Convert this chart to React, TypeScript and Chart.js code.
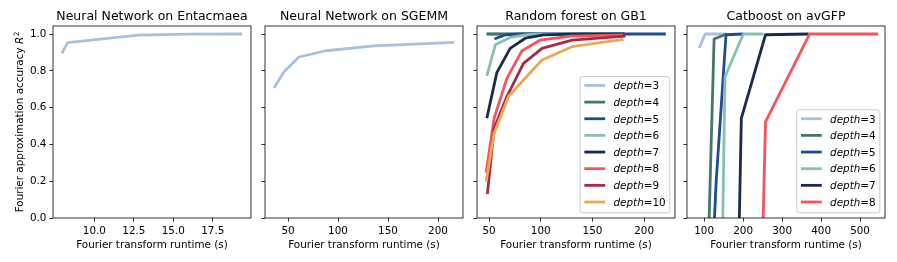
import React, { useEffect, useRef } from 'react';
import { Chart, registerables } from 'chart.js';

Chart.register(...registerables);

const FAMILY = "'DejaVu Sans', sans-serif";
const W = 897;
const H = 262;

// ---------- text ----------
const panelTitles = [
  'Neural Network on Entacmaea',
  'Neural Network on SGEMM',
  'Random forest on GB1',
  'Catboost on avGFP',
];
const xAxisLabel = 'Fourier transform runtime (s)';
const yAxisLabel = 'Fourier approximation accuracy ';

// ---------- ticks ----------
const yTicks = [0, 0.2, 0.4, 0.6, 0.8, 1.0];
const entTicks = [10, 12.5, 15, 17.5];
const sgemmTicks = [50, 100, 150, 200];
const gb1Ticks = [50, 100, 150, 200];
const gfpTicks = [100, 200, 300, 400, 500];

// ---------- Neural network on Entacmaea ----------
const entRuntime = [7.95, 8.3, 12.8, 16.1, 19.35];
const entAccuracy = [0.895, 0.953, 0.994, 0.999, 1.0];

// ---------- Neural network on SGEMM ----------
const sgemmRuntime = [36, 46, 61, 88, 136, 216];
const sgemmAccuracy = [0.707, 0.795, 0.875, 0.909, 0.935, 0.955];

// ---------- Random forest on GB1 ----------
const gb1Depths = ['3', '4', '5', '6', '7', '8', '9', '10'];
const gb1D3Runtime = [48, 55, 68, 83, 101, 130, 181];
const gb1D3Accuracy = [1.0, 1.0, 1.0, 1.0, 1.0, 1.0, 1.0];
const gb1D4Runtime = [47.4, 55, 68, 83, 101, 130, 181];
const gb1D4Accuracy = [1.0, 1.0, 1.0, 1.0, 1.0, 1.0, 1.0];
const gb1D5Runtime = [55.2, 65.9, 83, 101, 130, 181, 221];
const gb1D5Accuracy = [0.973, 0.996, 1.0, 1.0, 1.0, 1.0, 1.0];
const gb1D6Runtime = [47.8, 56.1, 70.7, 87, 101, 130, 181];
const gb1D6Accuracy = [0.772, 0.942, 0.982, 0.997, 1.0, 1.0, 1.0];
const gb1D7Runtime = [47.8, 57.5, 70.4, 85, 102.8, 130, 181];
const gb1D7Accuracy = [0.542, 0.79, 0.922, 0.977, 0.995, 0.999, 1.0];
const gb1D8Runtime = [47.1, 54.9, 67.2, 81.7, 99.5, 128.6, 180];
const gb1D8Accuracy = [0.246, 0.542, 0.759, 0.908, 0.967, 0.989, 0.995];
const gb1D9Runtime = [48.3, 54.9, 67.2, 83.3, 101.2, 130.3, 182];
const gb1D9Accuracy = [0.13, 0.487, 0.66, 0.84, 0.922, 0.967, 0.989];
const gb1D10Runtime = [47.1, 54.9, 68.7, 83.3, 101.2, 130.3, 180];
const gb1D10Accuracy = [0.197, 0.46, 0.66, 0.75, 0.859, 0.931, 0.971];

// ---------- Catboost on avGFP ----------
const gfpDepths = ['3', '4', '5', '6', '7', '8'];
const gfpD3Runtime = [87.2, 102.6, 155.4];
const gfpD3Accuracy = [0.924, 1.0, 1.0];
const gfpD4Runtime = [112.8, 125.5, 157.9];
const gfpD4Accuracy = [0.0, 0.973, 1.0];
const gfpD5Runtime = [126.5, 130.6, 156.1, 200.5];
const gfpD5Accuracy = [0.0, 0.19, 0.996, 1.0];
const gfpD6Runtime = [147.7, 153.6, 200.5, 252];
const gfpD6Accuracy = [0.0, 0.768, 1.0, 1.0];
const gfpD7Runtime = [190.3, 195.4, 257.4, 367.9];
const gfpD7Accuracy = [0.0, 0.542, 0.996, 1.0];
const gfpD8Runtime = [251.5, 257.4, 370.4, 546.4];
const gfpD8Accuracy = [0.0, 0.523, 1.0, 1.0];

// ---------- colours ----------
const depthColors = ['#a9c0da', '#45766b', '#1f4b94', '#88c1b3', '#1d2a50', '#f4545c', '#a32c46', '#e8a855'];

type Series = { label: string; x: number[]; y: number[]; color: string };
type Panel = {
  title: string;
  box: { left: number; right: number; top: number; bottom: number };
  xMin: number;
  xMax: number;
  xTicks: number[];
  xDecimals: number;
  showYLabels: boolean;
  legend: boolean;
  series: Series[];
};

const BOX_TOP = 26;
const BOX_BOTTOM = 218;
const LINE_W = 2.8;

const panels: Panel[] = [
  {
    title: panelTitles[0],
    box: { left: 53, right: 251, top: BOX_TOP, bottom: BOX_BOTTOM },
    xMin: 7.38,
    xMax: 19.92,
    xTicks: entTicks,
    xDecimals: 1,
    showYLabels: true,
    legend: false,
    series: [{ label: 'nn', x: entRuntime, y: entAccuracy, color: depthColors[0] }],
  },
  {
    title: panelTitles[1],
    box: { left: 265, right: 463, top: BOX_TOP, bottom: BOX_BOTTOM },
    xMin: 27,
    xMax: 225,
    xTicks: sgemmTicks,
    xDecimals: 0,
    showYLabels: false,
    legend: false,
    series: [{ label: 'nn', x: sgemmRuntime, y: sgemmAccuracy, color: depthColors[0] }],
  },
  {
    title: panelTitles[2],
    box: { left: 477, right: 675, top: BOX_TOP, bottom: BOX_BOTTOM },
    xMin: 38.3,
    xMax: 229.9,
    xTicks: gb1Ticks,
    xDecimals: 0,
    showYLabels: false,
    legend: true,
    series: [
      [gb1D3Runtime, gb1D3Accuracy],
      [gb1D4Runtime, gb1D4Accuracy],
      [gb1D5Runtime, gb1D5Accuracy],
      [gb1D6Runtime, gb1D6Accuracy],
      [gb1D7Runtime, gb1D7Accuracy],
      [gb1D8Runtime, gb1D8Accuracy],
      [gb1D9Runtime, gb1D9Accuracy],
      [gb1D10Runtime, gb1D10Accuracy],
    ].map((s, i) => ({ label: gb1Depths[i], x: s[0], y: s[1], color: depthColors[i] })),
  },
  {
    title: panelTitles[3],
    box: { left: 687, right: 885, top: BOX_TOP, bottom: BOX_BOTTOM },
    xMin: 56,
    xMax: 564,
    xTicks: gfpTicks,
    xDecimals: 0,
    showYLabels: false,
    legend: true,
    series: [
      [gfpD3Runtime, gfpD3Accuracy],
      [gfpD4Runtime, gfpD4Accuracy],
      [gfpD5Runtime, gfpD5Accuracy],
      [gfpD6Runtime, gfpD6Accuracy],
      [gfpD7Runtime, gfpD7Accuracy],
      [gfpD8Runtime, gfpD8Accuracy],
    ].map((s, i) => ({ label: gfpDepths[i], x: s[0], y: s[1], color: depthColors[i] })),
  },
];

const Y_MIN = 0;
const Y_MAX = 1.0435;
const TICK_FS = 10.4;
const TITLE_FS = 12.5;
const AXIS_W = 40;
const AXIS_H = 40;

function drawLegend(ctx: CanvasRenderingContext2D, area: any, series: Series[]) {
  const fs = TICK_FS;
  const pad = 0.4 * fs;
  const handle = 2 * fs;
  const textPad = 0.8 * fs;
  const rowH = 11.45;
  const spacing = 0.5 * fs;
  const n = series.length;
  const italic = `italic ${fs}px ${FAMILY}`;
  const regular = `${fs}px ${FAMILY}`;
  let maxW = 0;
  const widths = series.map((s) => {
    ctx.font = italic;
    const a = ctx.measureText('depth').width;
    ctx.font = regular;
    const b = ctx.measureText('=' + s.label).width;
    maxW = Math.max(maxW, a + b);
    return a;
  });
  const w = pad * 2 + handle + textPad + maxW;
  const h = pad * 2 + n * rowH + (n - 1) * spacing;
  const right = area.right - 0.5 * fs;
  const bottom = area.bottom - 0.5 * fs;
  const left = right - w;
  const top = bottom - h;
  ctx.save();
  ctx.beginPath();
  if ((ctx as any).roundRect) (ctx as any).roundRect(left, top, w, h, 2.5);
  else ctx.rect(left, top, w, h);
  ctx.fillStyle = 'rgba(255,255,255,0.8)';
  ctx.fill();
  ctx.lineWidth = 1;
  ctx.strokeStyle = '#cccccc';
  ctx.stroke();
  series.forEach((s, i) => {
    const cy = top + pad + i * (rowH + spacing) + rowH * 0.42;
    ctx.beginPath();
    ctx.moveTo(left + pad, cy);
    ctx.lineTo(left + pad + handle, cy);
    ctx.strokeStyle = s.color;
    ctx.lineWidth = LINE_W;
    ctx.stroke();
    const tx = left + pad + handle + textPad;
    const by = cy + 3.8;
    ctx.fillStyle = '#000';
    ctx.textBaseline = 'alphabetic';
    ctx.textAlign = 'left';
    ctx.font = italic;
    ctx.fillText('depth', tx, by);
    ctx.font = regular;
    ctx.fillText('=' + s.label, tx + widths[i], by);
  });
  ctx.restore();
}

function makeDecorPlugin(panel: Panel, index: number) {
  return {
    id: 'decor' + index,
    afterDraw(chart: any) {
      const ctx: CanvasRenderingContext2D = chart.ctx;
      const a = chart.chartArea;
      ctx.save();
      // frame
      ctx.strokeStyle = '#000';
      ctx.lineWidth = 0.8;
      ctx.strokeRect(a.left, a.top, a.right - a.left, a.bottom - a.top);
      // title
      ctx.fillStyle = '#000';
      ctx.textAlign = 'center';
      ctx.textBaseline = 'alphabetic';
      ctx.font = `${TITLE_FS}px ${FAMILY}`;
      ctx.fillText(panel.title, (a.left + a.right) / 2, 20.2);
      // x label
      ctx.font = `${TICK_FS}px ${FAMILY}`;
      ctx.fillText(xAxisLabel, (a.left + a.right) / 2, 248);
      // y label
      if (panel.showYLabels) {
        const regular = `${TICK_FS}px ${FAMILY}`;
        const italic = `italic ${TICK_FS}px ${FAMILY}`;
        const sup = `${TICK_FS * 0.7}px ${FAMILY}`;
        ctx.font = regular;
        const w1 = ctx.measureText(yAxisLabel).width;
        ctx.font = italic;
        const w2 = ctx.measureText('R').width;
        ctx.font = sup;
        const w3 = ctx.measureText('2').width;
        const total = w1 + w2 + 0.6 + w3;
        ctx.translate(23, (a.top + a.bottom) / 2);
        ctx.rotate(-Math.PI / 2);
        ctx.textAlign = 'left';
        let x0 = -total / 2;
        ctx.font = regular;
        ctx.fillText(yAxisLabel, x0, 0);
        x0 += w1;
        ctx.font = italic;
        ctx.fillText('R', x0, 0);
        x0 += w2 + 0.6;
        ctx.font = sup;
        ctx.fillText('2', x0, -4.3);
        ctx.setTransform(1, 0, 0, 1, 0, 0);
      }
      ctx.restore();
      if (panel.legend) drawLegend(ctx, a, panel.series);
    },
  };
}

function makeConfig(panel: Panel, index: number): any {
  const n = panel.series.length;
  const b = panel.box;
  return {
    type: 'scatter',
    data: {
      datasets: panel.series.map((s, i) => ({
        label: s.label,
        data: s.x.map((x, j) => ({ x, y: s.y[j] })),
        showLine: true,
        borderColor: s.color,
        backgroundColor: s.color,
        borderWidth: LINE_W,
        borderJoinStyle: 'round',
        borderCapStyle: 'butt',
        pointRadius: 0,
        pointHoverRadius: 0,
        tension: 0,
        order: n - i,
      })),
    },
    options: {
      animation: false,
      responsive: false,
      maintainAspectRatio: false,
      events: [],
      layout: {
        padding: {
          left: b.left - AXIS_W,
          right: W - b.right,
          top: b.top,
          bottom: H - b.bottom - AXIS_H,
        },
      },
      plugins: {
        legend: { display: false },
        tooltip: { enabled: false },
        title: { display: false },
      },
      scales: {
        x: {
          type: 'linear',
          min: panel.xMin,
          max: panel.xMax,
          afterBuildTicks: (s: any) => {
            s.ticks = panel.xTicks.map((v) => ({ value: v }));
          },
          afterFit: (s: any) => {
            s.height = AXIS_H;
            s.paddingLeft = 0;
            s.paddingRight = 0;
          },
          grid: { drawOnChartArea: false, drawTicks: true, tickLength: 3.6, color: '#000', lineWidth: 0.8 },
          border: { display: false },
          ticks: {
            color: '#000',
            font: { family: FAMILY, size: TICK_FS },
            padding: 3.4,
            maxRotation: 0,
            minRotation: 0,
            autoSkip: false,
            callback: (v: number) => Number(v).toFixed(panel.xDecimals),
          },
        },
        y: {
          type: 'linear',
          min: Y_MIN,
          max: Y_MAX,
          afterBuildTicks: (s: any) => {
            s.ticks = yTicks.map((v) => ({ value: v }));
          },
          afterFit: (s: any) => {
            s.width = AXIS_W;
            s.paddingTop = 0;
            s.paddingBottom = 0;
          },
          grid: { drawOnChartArea: false, drawTicks: true, tickLength: 3.6, color: '#000', lineWidth: 0.8 },
          border: { display: false },
          ticks: {
            color: '#000',
            font: { family: FAMILY, size: TICK_FS },
            padding: 3.0,
            autoSkip: false,
            callback: (v: number) => (panel.showYLabels ? Number(v).toFixed(1) : ''),
          },
        },
      },
    },
    plugins: [makeDecorPlugin(panel, index)],
  };
}

export default function App() {
  const containerRef = useRef<HTMLDivElement | null>(null);
  useEffect(() => {
    const container = containerRef.current;
    if (!container) return;
    const canvases: HTMLCanvasElement[] = [];
    const charts = panels.map((p, i) => {
      const c = document.createElement('canvas');
      c.width = W;
      c.height = H;
      c.style.position = 'absolute';
      c.style.left = '0px';
      c.style.top = '0px';
      c.style.width = W + 'px';
      c.style.height = H + 'px';
      container.appendChild(c);
      canvases.push(c);
      return new Chart(c, makeConfig(p, i));
    });
    return () => {
      charts.forEach((c) => c.destroy());
      canvases.forEach((c) => c.remove());
    };
  }, []);
  return (
    <div
      ref={containerRef}
      style={{ position: 'fixed', left: 0, top: 0, width: W, height: H, background: '#ffffff', overflow: 'hidden' }}
    />
  );
}
